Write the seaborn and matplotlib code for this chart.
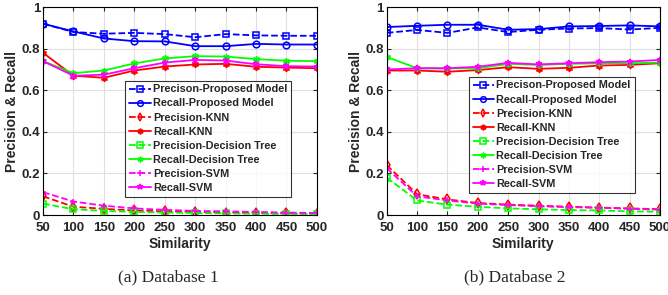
import matplotlib
matplotlib.use("Agg")
import matplotlib.pyplot as plt
import seaborn as sns

similarity = [50, 100, 150, 200, 250, 300, 350, 400, 450, 500]

series_names = [
    "Precison-Proposed Model", "Recall-Proposed Model",
    "Precision-KNN", "Recall-KNN",
    "Precision-Decision Tree", "Recall-Decision Tree",
    "Precision-SVM", "Recall-SVM",
]

# Database 1
db1_prec_proposed = [0.92, 0.88, 0.872, 0.876, 0.87, 0.855, 0.87, 0.864, 0.862, 0.862]
db1_rec_proposed = [0.92, 0.883, 0.849, 0.836, 0.835, 0.812, 0.812, 0.823, 0.82, 0.82]
db1_prec_knn = [0.09, 0.04, 0.03, 0.022, 0.018, 0.015, 0.012, 0.01, 0.008, 0.007]
db1_rec_knn = [0.78, 0.67, 0.66, 0.695, 0.714, 0.724, 0.727, 0.713, 0.709, 0.706]
db1_prec_dt = [0.055, 0.028, 0.02, 0.015, 0.012, 0.01, 0.008, 0.006, 0.005, 0.005]
db1_rec_dt = [0.74, 0.682, 0.695, 0.729, 0.753, 0.764, 0.762, 0.75, 0.742, 0.74]
db1_prec_svm = [0.11, 0.065, 0.045, 0.032, 0.025, 0.02, 0.018, 0.015, 0.012, 0.01]
db1_rec_svm = [0.74, 0.67, 0.675, 0.706, 0.733, 0.746, 0.743, 0.725, 0.716, 0.714]

# Database 2
db2_prec_proposed = [0.876, 0.89, 0.876, 0.902, 0.88, 0.891, 0.897, 0.899, 0.892, 0.9]
db2_rec_proposed = [0.904, 0.91, 0.915, 0.915, 0.891, 0.894, 0.907, 0.909, 0.912, 0.907]
db2_prec_knn = [0.24, 0.10, 0.075, 0.058, 0.05, 0.045, 0.04, 0.036, 0.032, 0.028]
db2_rec_knn = [0.695, 0.695, 0.689, 0.697, 0.711, 0.703, 0.708, 0.719, 0.722, 0.73]
db2_prec_dt = [0.18, 0.07, 0.05, 0.04, 0.032, 0.028, 0.024, 0.022, 0.018, 0.016]
db2_rec_dt = [0.76, 0.706, 0.705, 0.706, 0.727, 0.722, 0.727, 0.73, 0.73, 0.733]
db2_prec_svm = [0.225, 0.09, 0.07, 0.055, 0.048, 0.042, 0.038, 0.035, 0.03, 0.026]
db2_rec_svm = [0.70, 0.706, 0.706, 0.713, 0.732, 0.724, 0.73, 0.735, 0.738, 0.746]

db1 = [db1_prec_proposed, db1_rec_proposed, db1_prec_knn, db1_rec_knn,
       db1_prec_dt, db1_rec_dt, db1_prec_svm, db1_rec_svm]
db2 = [db2_prec_proposed, db2_rec_proposed, db2_prec_knn, db2_rec_knn,
       db2_prec_dt, db2_rec_dt, db2_prec_svm, db2_rec_svm]

blue, red, green, mag = "#0000ff", "#ff0000", "#00ff00", "#ff00ff"
# (color, linestyle, marker, filled)
styles = [
    (blue, "--", "s", False),
    (blue, "-", "o", False),
    (red, "--", "d", False),
    (red, "-", (6, 1, 0), True),
    (green, "--", "s", False),
    (green, "-", (6, 2, 0), True),
    (mag, "--", "+", True),
    (mag, "-", "*", True),
]

sns.set_theme(style="ticks")
plt.rcParams["font.family"] = ["Liberation Sans", "DejaVu Sans"]
plt.rcParams["font.weight"] = "bold"
plt.rcParams["axes.labelweight"] = "bold"

fig = plt.figure(figsize=(6.68, 2.95), dpi=100)
ax1 = fig.add_axes([0.0644, 0.271, 0.41, 0.705])
ax2 = fig.add_axes([0.579, 0.271, 0.409, 0.705])


def draw(ax, data, legend_anchor):
    for name, vals, (c, ls, m, filled) in zip(series_names, data, styles):
        sns.lineplot(x=similarity, y=vals, ax=ax, color=c, linestyle=ls,
                     marker=m, markersize=4.8, linewidth=1.3,
                     markeredgecolor=c, markeredgewidth=1.1,
                     markerfacecolor=c if filled else "none", label=name)
    ax.set_xlim(50, 500)
    ax.set_ylim(0, 1)
    ax.set_xticks(similarity)
    ax.set_yticks([0, 0.2, 0.4, 0.6, 0.8, 1])
    ax.set_yticklabels(["0", "0.2", "0.4", "0.6", "0.8", "1"])
    ax.grid(True, color="#e0e0e0", linewidth=0.8)
    ax.tick_params(direction="in", length=3, labelsize=9.5, pad=2,
                   top=True, right=True, width=0.8)
    ax.tick_params(axis="x", pad=5)
    for s in ax.spines.values():
        s.set_visible(True)
        s.set_color("black")
        s.set_linewidth(0.8)
    ax.set_xlabel("Similarity", fontsize=10, labelpad=2)
    ax.set_ylabel("Precision & Recall", fontsize=10, labelpad=2)
    leg = ax.legend(loc="lower left", bbox_to_anchor=legend_anchor, fontsize=7.8,
                    frameon=True, fancybox=False, handlelength=2.0,
                    handletextpad=0.2, labelspacing=0.38, borderpad=0.35,
                    borderaxespad=0, markerscale=0.85)
    leg.get_frame().set_edgecolor("black")
    leg.get_frame().set_linewidth(0.8)
    for t in leg.get_texts():
        t.set_fontweight("bold")


draw(ax1, db1, (0.30, 0.087))
draw(ax2, db2, (0.30, 0.106))

fig.text(0.252, 0.06, "(a) Database 1", ha="center", va="center",
         fontsize=12.5, family="Liberation Serif", weight="normal")
fig.text(0.77, 0.06, "(b) Database 2", ha="center", va="center",
         fontsize=12.5, family="Liberation Serif", weight="normal")

fig.savefig("out.png", dpi=100)
